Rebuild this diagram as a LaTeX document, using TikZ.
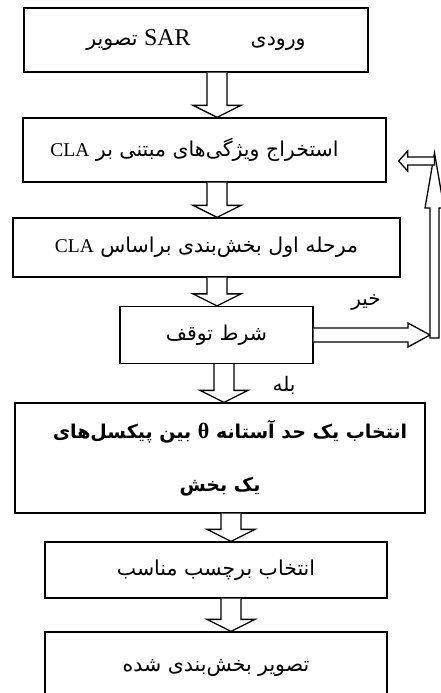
\documentclass[tikz,border=0pt]{standalone}
\usepackage{fontspec}
\setmainfont{Liberation Serif}
\newfontfamily\farsifont[Script=Arabic]{DejaVu Sans}
\newfontfamily\latinfont{Liberation Serif}
\TeXXeTstate=1
\usetikzlibrary{calc}
\tikzset{
  flowbox/.style={draw,line width=1.3pt,fill=white,inner sep=0pt,align=center,
    font=\farsifont\fontsize{20.5}{24}\selectfont},
  boldbox/.style={flowbox,font=\farsifont\bfseries\fontsize{19}{53}\selectfont},
  hollowarrow/.style={draw,line width=1.3pt,fill=white,line join=miter},
  answerlabel/.style={font=\farsifont\fontsize{20}{22}\selectfont,inner sep=0pt}
}
\newcommand{\downblock}[3]{%
  \draw[hollowarrow]
    ($(#3 |- #1.south)+(-10,0)$) -- ($(#3 |- #2.north)+(-10,-12)$)
    -- ($(#3 |- #2.north)+(-24,-12)$) -- (#3 |- #2.north)
    -- ($(#3 |- #2.north)+(24,-12)$) -- ($(#3 |- #2.north)+(10,-12)$)
    -- ($(#3 |- #1.south)+(10,0)$);
}
\newcommand{\latinword}[2][19.5]{\beginL{\latinfont\fontsize{#1}{20}\selectfont #2}\endL}

\begin{document}
\begin{tikzpicture}[x=1pt,y=-1pt]
  \useasboundingbox (0,0) rectangle (441,693);
  \clip (0,0) rectangle (441,693);
  \node[flowbox,minimum width=344pt,minimum height=64pt] (input) at (196,40)
    {\raisebox{-6pt}{\beginR ورودی\hspace{60pt}\latinword[24]{SAR} تصویر\endR}};
  \node[flowbox,minimum width=363pt,minimum height=64pt] (features) at (204.5,150)
    {\beginR استخراج ویژگی^^^^200cهای مبتنی بر \latinword{CLA}\endR\hspace*{20pt}};
  \node[flowbox,minimum width=387pt,minimum height=59pt] (firstseg) at (206.5,247.5)
    {\beginR مرحله اول بخش^^^^200cبندی براساس \latinword{CLA}\endR};
  \node[flowbox,minimum width=193pt,minimum height=57pt] (stop) at (216.5,335)
    {\beginR شرط توقف\endR};
  \node[boldbox,minimum width=410pt,minimum height=110pt] (threshold) at (220,458)
    {\hspace*{20pt}\beginR انتخاب یک حد آستانه {\latinfont\fontsize{22}{22}\selectfont θ} بین پیکسل^^^^200cهای\endR\\\beginR یک بخش\endR};
  \node[flowbox,minimum width=342pt,minimum height=56pt] (label) at (216,570)
    {\beginR انتخاب برچسب مناسب\endR};
  \node[flowbox,minimum width=342pt,minimum height=72pt] (output) at (216,668)
    {\beginR تصویر بخش^^^^200cبندی شده\endR};

  \coordinate (axisA) at (217,0);
  \coordinate (axisB) at (224,0);
  \coordinate (axisC) at (231,0);
  \downblock{input}{features}{axisA}
  \downblock{features}{firstseg}{axisA}
  \downblock{firstseg}{stop}{axisA}
  \downblock{stop}{threshold}{axisB}
  \downblock{threshold}{label}{axisC}
  \downblock{label}{output}{axisC}

  \coordinate (notip) at (430,335);
  \coordinate (upfoot) at (434.5,338);
  \coordinate (uptip) at (434.5,153);
  \coordinate (backtip) at ($(features.east)+(12,11)$);
  \coordinate (backend) at (uptip |- backtip);
  \draw[hollowarrow] ($(stop.east)+(0,-7)$) -- ($(notip)+(-22,-7)$) -- ($(notip)+(-22,-12)$)
    -- (notip) -- ($(notip)+(-22,12)$) -- ($(notip)+(-22,7)$) -- ($(stop.east)+(0,7)$);
  \draw[hollowarrow] ($(upfoot)+(-4.5,0)$) -- ($(uptip)+(-4.5,55)$) -- ($(uptip)+(-9.5,55)$)
    -- (uptip) -- ($(uptip)+(9.5,55)$) -- ($(uptip)+(4.5,55)$) -- ($(upfoot)+(4.5,0)$) -- cycle;
  \draw[hollowarrow] ($(backend)+(0,-4)$) -- ($(backtip)+(9,-4)$) -- ($(backtip)+(9,-10)$)
    -- (backtip) -- ($(backtip)+(9,10)$) -- ($(backtip)+(9,4)$) -- ($(backend)+(0,4)$) -- cycle;

  \node[answerlabel] (no) at (366,303) {\beginR خیر\endR};
  \node[answerlabel] (yes) at (284,385) {\beginR بله\endR};
\end{tikzpicture}
\end{document}
